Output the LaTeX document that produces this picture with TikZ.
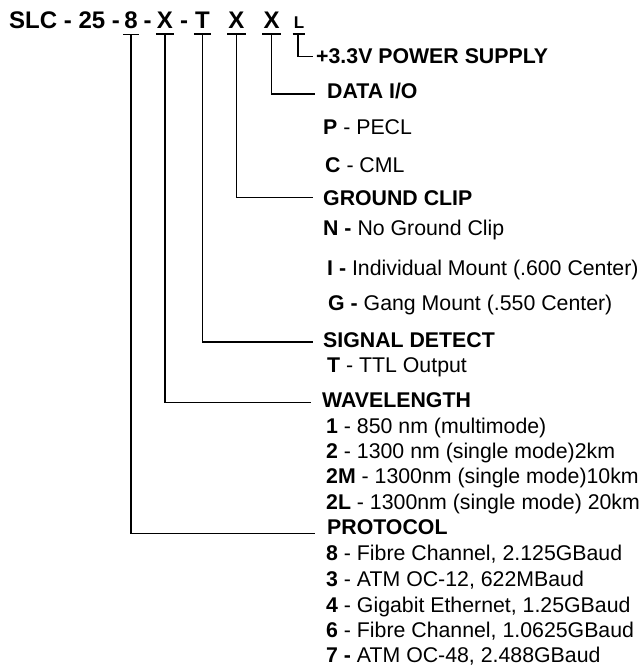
\documentclass[tikz,border=0pt]{standalone}
\usepackage{fontspec}
\setmainfont{Liberation Sans}
\newcommand{\partfont}{\fontsize{24}{28}\selectfont\bfseries}
\newcommand{\itemfont}{\fontsize{21.3}{25}\selectfont}
\begin{document}
\begin{tikzpicture}[x=1pt, y=-1pt,
  every node/.style={inner sep=0pt},
  pchar/.style={anchor=base, font=\partfont},
  head/.style={anchor=base west, font=\itemfont\bfseries},
  opt/.style={anchor=base west, font=\itemfont},
  lead/.style={line width=1.5pt}]
  \useasboundingbox (0,0) rectangle (642,666);
  % Part number
  \node[anchor=base west, font=\partfont] (slc) at (9,29) {SLC - 25 -};
  \node[pchar] (c8) at (131,29) {8};
  \node[pchar] (d1) at (147.5,29) {-};
  \node[pchar] (cXa) at (165,29) {X};
  \node[pchar] (d2) at (184,29) {-};
  \node[pchar] (cT) at (202.5,29) {T};
  \node[pchar] (cXb) at (236.5,29) {X};
  \node[pchar] (cXc) at (271.5,29) {X};
  \node[pchar, font=\fontsize{17}{20}\selectfont\bfseries] (cL) at (299,29) {L};
  % Bars under the code letters
  \foreach \c in {c8,cXa,cT,cXb,cXc,cL}
    \draw[lead] ([xshift=-1pt,yshift=-5pt]\c.south west) -- ([xshift=1pt,yshift=-5pt]\c.south east);
  % Power supply
  \node[head] (pwr) at (316,64) {+3.3V POWER SUPPLY};
  \draw[lead] ([xshift=-1pt,yshift=-5pt]cL.south) |- ([xshift=-3pt]pwr.west);
  % Data I/O
  \node[head] (data) at (327,99) {DATA I/O};
  \node[opt] (dP) at (323,135) {\textbf{P} - PECL};
  \node[opt] (dC) at (325,172) {\textbf{C} - CML};
  \draw[lead] ([yshift=-5pt]cXc.south) |- ([xshift=-12pt,yshift=-2.5pt]data.west);
  % Ground clip
  \node[head] (gnd) at (323,205) {GROUND CLIP};
  \node[opt] (gN) at (323,235) {\textbf{N -} No Ground Clip};
  \node[opt] (gI) at (327,275) {\textbf{I -} Individual Mount (.600 Center)};
  \node[opt] (gG) at (328,310) {\textbf{G -} Gang Mount (.550 Center)};
  \draw[lead] ([yshift=-5pt]cXb.south) |- ([xshift=-10pt]gnd.west);
  % Signal detect
  \node[head] (sig) at (323,347) {SIGNAL DETECT};
  \node[opt] (sT) at (327,372) {\textbf{T} - TTL Output};
  \draw[lead] ([yshift=-5pt]cT.south) |- ([xshift=-10pt,yshift=-2.5pt]sig.west);
  % Wavelength
  \node[head] (wave) at (322,407) {WAVELENGTH};
  \node[opt] (w1) at (326,433) {\textbf{1} - 850 nm (multimode)};
  \node[opt] (w2) at (326,458) {\textbf{2} - 1300 nm (single mode)2km};
  \node[opt] (w2M) at (326,483) {\textbf{2M} - 1300nm (single mode)10km};
  \node[opt] (w2L) at (326,509) {\textbf{2L} - 1300nm (single mode) 20km};
  \draw[lead] ([yshift=-5pt]cXa.south) |- ([xshift=-11pt,yshift=-3pt]wave.west);
  % Protocol
  \node[head] (proto) at (327,534) {PROTOCOL};
  \node[opt] (p8) at (326,560) {\textbf{8} - Fibre Channel, 2.125GBaud};
  \node[opt] (p3) at (326,586) {\textbf{3} - ATM OC-12, 622MBaud};
  \node[opt] (p4) at (326,612) {\textbf{4} - Gigabit Ethernet, 1.25GBaud};
  \node[opt] (p6) at (326,637) {\textbf{6} - Fibre Channel, 1.0625GBaud};
  \node[opt] (p7) at (326,662) {\textbf{7 -} ATM OC-48, 2.488GBaud};
  \draw[lead] ([yshift=-5pt]c8.south) |- ([xshift=-12pt,yshift=-7pt]proto.west);
\end{tikzpicture}
\end{document}
